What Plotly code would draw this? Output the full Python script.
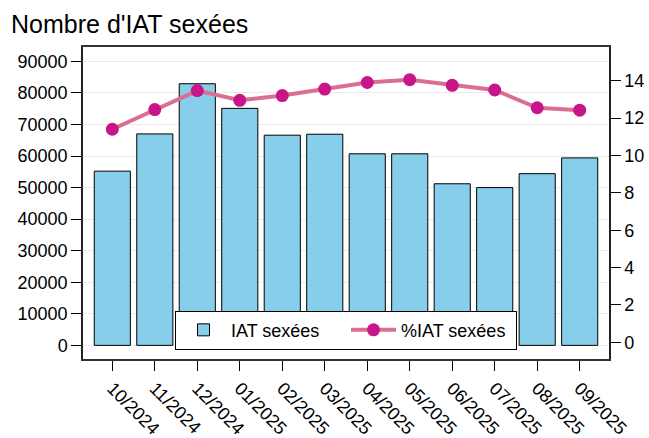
import plotly.graph_objects as go

# Données mensuelles
mois = ["10/2024", "11/2024", "12/2024", "01/2025", "02/2025", "03/2025",
        "04/2025", "05/2025", "06/2025", "07/2025", "08/2025", "09/2025"]
iat_sexees = [55200, 67000, 82900, 75100, 66600, 66900,
              60700, 60700, 51200, 50000, 54400, 59400]
pct_iat_sexees = [11.4, 12.45, 13.47, 12.95, 13.2, 13.55,
                  13.9, 14.05, 13.75, 13.5, 12.55, 12.42]

FONT = "Liberation Sans, Arial, sans-serif"

fig = go.Figure()
fig.add_trace(go.Bar(x=mois, y=iat_sexees, name="IAT sexées",
                     marker=dict(color="#87CEEB", line=dict(color="black", width=1)),
                     width=0.85))
fig.add_trace(go.Scatter(x=mois, y=pct_iat_sexees, name="%IAT sexées", yaxis="y2",
                         mode="lines+markers",
                         line=dict(color="#db6f93", width=4),
                         marker=dict(color="#c8168a", size=13)))

fig.update_layout(
    width=649, height=438,
    margin=dict(l=83, r=40, t=47, b=79, autoexpand=False),
    plot_bgcolor="white", paper_bgcolor="white",
    font=dict(family=FONT, size=18, color="black"),
    title=dict(text="Nombre d'IAT sexées", x=0.017, xanchor="left", xref="container",
               y=0.945, yanchor="middle", pad=dict(l=0, t=0, b=0, r=0),
               font=dict(size=25)),
    xaxis=dict(range=[-0.69, 11.69], tickangle=45, ticks="outside", ticklen=10,
               tickcolor="black", showline=True, linecolor="#333", linewidth=1.5,
               mirror=True, showgrid=False, tickfont=dict(size=18), automargin=False),
    yaxis=dict(range=[-4320, 94540], dtick=10000, tick0=0, tickformat="d",
               ticks="outside", ticklen=10, tickcolor="black", showline=True,
               linecolor="#222", linewidth=1.5, mirror=True, showgrid=True,
               gridcolor="#ebebeb", zeroline=False, tickfont=dict(size=18),
               automargin=False),
    yaxis2=dict(range=[-0.89, 15.8], dtick=2, tick0=0, overlaying="y", side="right",
                ticks="outside", ticklen=10, tickcolor="black", showline=True,
                linecolor="#222", linewidth=1.5, showgrid=False, zeroline=False,
                tickfont=dict(size=18), automargin=False),
    legend=dict(orientation="h", x=0.5, xanchor="center", y=0.03, yanchor="bottom",
                bordercolor="black", borderwidth=1, bgcolor="white",
                font=dict(size=18), traceorder="normal",
                itemwidth=45, entrywidth=110, entrywidthmode="pixels"),
    bargap=0.15,
)

fig.write_html("out.html", config={"displayModeBar": False},
               post_script="document.body.style.margin='0';")
